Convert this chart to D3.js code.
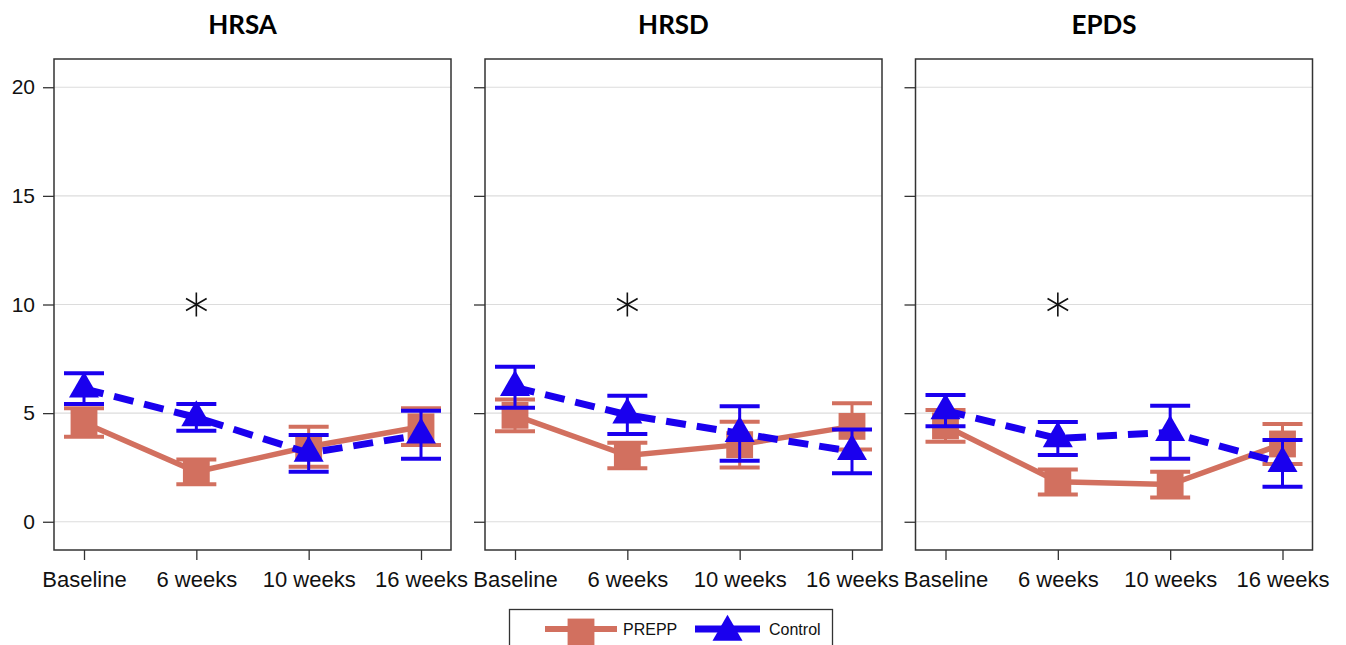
<!DOCTYPE html>
<html>
<head>
<meta charset="utf-8">
<script src="https://cdn.jsdelivr.net/npm/d3@7"></script>
<style>
  body { margin: 0; background: #fff; }
  svg { display: block; }
</style>
</head>
<body>
<svg id="chart" width="1346" height="645"></svg>
<script>
// time points and measures
var categories = ['Baseline', '6 weeks', '10 weeks', '16 weeks'];
var measures = ['HRSA', 'HRSD', 'EPDS'];
var yTicks = [0, 5, 10, 15, 20];

// PREPP group: mean, lower, upper
var hrsaPrepp = [4.56, 2.30, 3.45, 4.37];
var hrsaPreppLo = [3.91, 1.73, 2.53, 3.53];
var hrsaPreppHi = [5.22, 2.87, 4.37, 5.22];
var hrsdPrepp = [4.90, 3.05, 3.55, 4.39];
var hrsdPreppLo = [4.17, 2.46, 2.50, 3.33];
var hrsdPreppHi = [5.63, 3.64, 4.60, 5.45];
var epdsPrepp = [4.41, 1.84, 1.71, 3.58];
var epdsPreppLo = [3.68, 1.26, 1.12, 2.66];
var epdsPreppHi = [5.14, 2.41, 2.30, 4.50];

// Control group: mean, lower, upper
var hrsaControl = [6.12, 4.80, 3.16, 4.00];
var hrsaControlLo = [5.42, 4.19, 2.30, 2.90];
var hrsaControlHi = [6.83, 5.42, 3.99, 5.11];
var hrsdControl = [6.19, 4.92, 4.07, 3.24];
var hrsdControlLo = [5.25, 4.04, 2.81, 2.23];
var hrsdControlHi = [7.13, 5.80, 5.32, 4.25];
var epdsControl = [5.12, 3.83, 4.12, 2.69];
var epdsControlLo = [4.40, 3.07, 2.90, 1.61];
var epdsControlHi = [5.83, 4.59, 5.34, 3.76];

// significance markers
var sigCategory = '6 weeks';
var sigValue = 10;

var panelData = [
  {prepp: [hrsaPrepp, hrsaPreppLo, hrsaPreppHi], control: [hrsaControl, hrsaControlLo, hrsaControlHi]},
  {prepp: [hrsdPrepp, hrsdPreppLo, hrsdPreppHi], control: [hrsdControl, hrsdControlLo, hrsdControlHi]},
  {prepp: [epdsPrepp, epdsPreppLo, epdsPreppHi], control: [epdsControl, epdsControlLo, epdsControlHi]}
];

var preppColor = '#d2705f',
  controlColor = '#1a00ee',
  panelLeft = [54, 485, 915.5],
  panelW = 397,
  plotTop = 59,
  plotBottom = 550,
  labelFont = '"Liberation Sans", Arial, sans-serif';

var svg = d3.select('#chart');

var y = d3.scaleLinear()
  .domain([-1.3, 21.3])
  .range([plotBottom, plotTop]);

var x = d3.scalePoint()
  .domain(categories)
  .range([30, panelW - 30]);

var tri = d3.symbol().type(d3.symbolTriangle).size(390);
var sq = d3.symbol().type(d3.symbolSquare).size(720);
var star = d3.symbol().type(d3.symbolAsterisk).size(400);

measures.forEach(function (name, i) {
  var g = svg.append('g')
    .attr('transform', 'translate(' + panelLeft[i] + ',0)');
  var d = panelData[i];

  // grid
  g.selectAll('.grid')
    .data(yTicks)
    .enter()
    .append('line')
    .attr('x1', 0)
    .attr('x2', panelW)
    .attr('y1', function (v) { return y(v); })
    .attr('y2', function (v) { return y(v); })
    .attr('stroke', '#dcdcdc')
    .attr('stroke-width', 1.2);

  // y axis ticks
  var yAxis = d3.axisLeft(y).tickValues(yTicks).tickSize(11).tickPadding(8)
    .tickFormat(i === 0 ? d3.format('d') : function () { return ''; });
  var ya = g.append('g').call(yAxis);
  ya.select('.domain').remove();
  ya.selectAll('line').attr('stroke', '#333').attr('stroke-width', 1.3);
  ya.selectAll('text').attr('font-family', labelFont).attr('font-size', 21).attr('fill', '#111');

  // x axis ticks
  var xAxis = d3.axisBottom(x).tickSize(10).tickPadding(11);
  var xa = g.append('g').attr('transform', 'translate(0,' + plotBottom + ')').call(xAxis);
  xa.select('.domain').remove();
  xa.selectAll('line').attr('stroke', '#333').attr('stroke-width', 1.3);
  xa.selectAll('text').attr('font-family', labelFont).attr('font-size', 22).attr('fill', '#111');

  // frame
  g.append('rect')
    .attr('x', 0).attr('y', plotTop)
    .attr('width', panelW).attr('height', plotBottom - plotTop)
    .attr('fill', 'none')
    .attr('stroke', '#333')
    .attr('stroke-width', 1.5);

  // title
  g.append('text')
    .attr('x', panelW / 2 - 10)
    .attr('y', 34)
    .attr('text-anchor', 'middle')
    .attr('font-family', 'Lato, "Open Sans", sans-serif')
    .attr('font-weight', 'bold')
    .attr('font-size', 26)
    .text(name);

  // significance asterisk
  g.append('path')
    .attr('d', star)
    .attr('transform', 'translate(' + x(sigCategory) + ',' + y(sigValue) + ')')
    .attr('fill', 'none')
    .attr('stroke', '#111')
    .attr('stroke-width', 1.6);

  function drawSeries(vals, color, shape, dashed, lineW) {
    var pts = categories.map(function (c, k) {
      return {c: c, m: vals[0][k], lo: vals[1][k], hi: vals[2][k]};
    });
    var s = g.append('g');
    // error bars
    s.selectAll('.stem').data(pts).enter().append('line')
      .attr('x1', function (p) { return x(p.c); })
      .attr('x2', function (p) { return x(p.c); })
      .attr('y1', function (p) { return y(p.lo); })
      .attr('y2', function (p) { return y(p.hi); })
      .attr('stroke', color).attr('stroke-width', 3);
    ['lo', 'hi'].forEach(function (key) {
      s.selectAll('.cap-' + key).data(pts).enter().append('line')
        .attr('x1', function (p) { return x(p.c) - 20; })
        .attr('x2', function (p) { return x(p.c) + 20; })
        .attr('y1', function (p) { return y(p[key]); })
        .attr('y2', function (p) { return y(p[key]); })
        .attr('stroke', color).attr('stroke-width', 4);
    });
    // connecting line
    s.append('path')
      .datum(pts)
      .attr('d', d3.line().x(function (p) { return x(p.c); }).y(function (p) { return y(p.m); }))
      .attr('fill', 'none')
      .attr('stroke', color)
      .attr('stroke-width', lineW)
      .attr('stroke-dasharray', dashed ? '20,11' : null);
    // markers
    s.selectAll('.mk').data(pts).enter().append('path')
      .attr('d', shape)
      .attr('transform', function (p) { return 'translate(' + x(p.c) + ',' + y(p.m) + ')'; })
      .attr('fill', color);
  }

  drawSeries(d.prepp, preppColor, sq, false, 5.5);
  drawSeries(d.control, controlColor, tri, true, 7);
});

// legend
var lg = svg.append('g');
lg.append('rect')
  .attr('x', 509.5).attr('y', 609.5)
  .attr('width', 323).attr('height', 60)
  .attr('fill', '#fff')
  .attr('stroke', '#333')
  .attr('stroke-width', 1.3);

var legendItems = [
  {label: 'PREPP', color: preppColor, shape: sq, x0: 545, x1: 617, tx: 623},
  {label: 'Control', color: controlColor, shape: tri, x0: 695, x1: 760, tx: 769}
];
legendItems.forEach(function (it) {
  lg.append('line')
    .attr('x1', it.x0).attr('x2', it.x1)
    .attr('y1', 629).attr('y2', 629)
    .attr('stroke', it.color)
    .attr('stroke-width', it.label === 'PREPP' ? 6 : 7);
  lg.append('path')
    .attr('d', it.shape)
    .attr('transform', 'translate(' + ((it.x0 + it.x1) / 2) + ',632)')
    .attr('fill', it.color);
  lg.append('text')
    .attr('x', it.tx)
    .attr('y', 635)
    .attr('font-family', labelFont)
    .attr('font-size', 16)
    .attr('fill', '#111')
    .text(it.label);
});
</script>
</body>
</html>
